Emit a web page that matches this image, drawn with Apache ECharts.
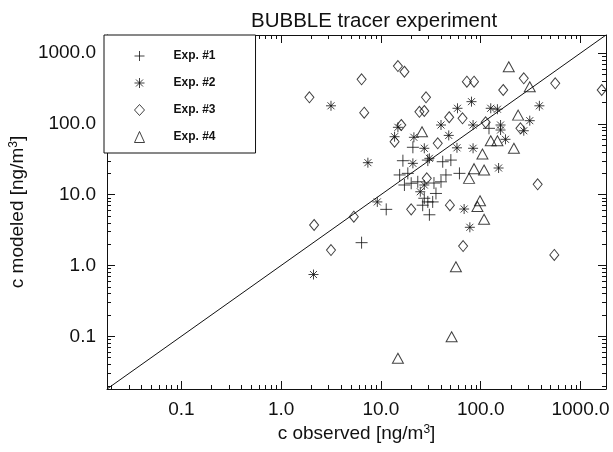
<!DOCTYPE html>
<html><head><meta charset="utf-8">
<script src="https://cdn.jsdelivr.net/npm/echarts@6/dist/echarts.min.js"></script>
<style>html,body{margin:0;padding:0;background:#fff}#c{width:613px;height:452px}</style>
</head><body><div id="c"></div>
<script>
// ---- data (observed [ng/m3], modeled [ng/m3]) ----
const exp1Obs = [20.9,16.6,29.5,41.6,50.2,15.4,18.6,44.8,17.2,20.1,23.4,34.0,40.0,35.6,27.2,29.5,33.0,11.3,26.2,30.6,6.4,121,61.2];
const exp1Mod = [46.7,30.2,30.8,29.2,30.8,19.0,20.0,19.0,13.7,14.5,15.2,14.6,15.2,10.4,8.9,7.9,7.9,6.2,7.1,5.2,2.1,86.5,20.0];
const exp2Obs = [3.16,58.5,14.8,40.0,13.7,21.4,47.8,27.2,57.8,7.4,20.9,30.6,27.2,24.8,9.2,2.11,80.8,126,147,387,310,83.8,158,158,270,177,83.8,151,68.2,77.8];
const exp2Mod = [180,166,89.4,96.4,65.9,64.6,68.7,45.2,45.9,28.3,27.7,32.6,13.7,11.0,7.9,0.745,206,166,161,180,111,96.4,96.4,81.9,80.0,60.5,45.2,23.8,6.27,3.46];
const exp3Obs = [1.92,6.4,6.8,14.8,17.2,28.3,24.3,27.2,48.3,16.0,13.7,37.1,72.6,85.7,270,168,558,1630,65.7,112,250,28.8,20.1,49.1,5.35,2.14,3.16,372,66.6,546];
const exp3Mod = [237,426,144,656,545,237,148,152,124,96.4,56.0,53.1,394,394,440,301,374,301,120,105,86.5,17.0,6.2,7.1,4.88,3.73,1.65,14.0,1.88,1.41];
const exp4Obs = [25.8,191,310,237,126,147,215,104,85.7,108,76.4,98.4,92.7,108,56.4,51.1,14.8];
const exp4Mod = [77.5,641,335,133,57.8,57.8,45.2,37.5,23.3,22.3,17.0,8.2,6.8,4.49,0.96,0.0986,0.0489];
const seriesNames = ['Exp. #1','Exp. #2','Exp. #3','Exp. #4'];
const axisRange = [0.018, 1800];
const oneToOne = [[0.018,0.018],[1800,1800]];

const INK = '#111';
const FONT = 'Liberation Sans, Arial, sans-serif';
const pairs = (a,b) => a.map((v,i)=>[v,b[i]]);
const chart = echarts.init(document.getElementById('c'), null, {renderer:'canvas'});

const baseAxis = (pos) => ({
  type:'log', min:axisRange[0], max:axisRange[1], position:pos,
  axisLine:{show:true, onZero:false, lineStyle:{color:INK, width:1}},
  axisTick:{show:true, inside:true, length:8, lineStyle:{color:INK, width:1}},
  minorTick:{show:true, splitNumber:9, length:4, lineStyle:{color:INK, width:1}},
  splitLine:{show:false}, minorSplitLine:{show:false}
});
const labelStyle = {show:true, color:INK, fontSize:19, fontFamily:FONT, showMinLabel:false, showMaxLabel:false,
  formatter: v => Number(v).toFixed(1)};
const symStyle = {color:'transparent', borderColor:INK, borderWidth:1};
const nameStyle = {fontSize:19, color:INK, fontFamily:FONT, rich:{sup:{fontSize:12, verticalAlign:'top', color:INK, fontFamily:FONT}}};

const option = {
  backgroundColor:'#fff',
  animation:false,
  title:{text:'BUBBLE tracer experiment', left:246, top:6,
    textStyle:{fontSize:20.5, fontWeight:'normal', color:INK, fontFamily:FONT}},
  grid:{left:104, right:7, top:35, bottom:63},
  legend:{data:seriesNames, orient:'vertical', left:104, top:35,
    padding:[15,40,10,30], itemGap:15, itemWidth:10, itemHeight:11,
    borderColor:INK, borderWidth:1, backgroundColor:'#fff',
    itemStyle:{color:'transparent', borderColor:INK, borderWidth:1},
    textStyle:{fontSize:12, fontWeight:'bold', color:INK, fontFamily:FONT, padding:[0,0,0,24]}},
  xAxis:[
    Object.assign(baseAxis('bottom'), {name:'c observed [ng/m{sup|3}]', nameLocation:'middle', nameGap:33,
      nameTextStyle:nameStyle, axisLabel:Object.assign({margin:11}, labelStyle)}),
    Object.assign(baseAxis('top'), {axisLabel:{show:false}})
  ],
  yAxis:[
    Object.assign(baseAxis('left'), {name:'c modeled [ng/m{sup|3}]', nameLocation:'middle', nameGap:70, nameRotate:90,
      nameTextStyle:nameStyle, axisLabel:Object.assign({margin:11}, labelStyle)}),
    Object.assign(baseAxis('right'), {axisLabel:{show:false}})
  ],
  series:[
    {type:'line', name:'1:1', data:oneToOne, showSymbol:false, silent:true,
      lineStyle:{color:INK, width:1}, z:2},
    {type:'scatter', name:seriesNames[0], data:pairs(exp1Obs,exp1Mod), symbol:'path://M6,0V12M0,6H12', symbolSize:12, itemStyle:symStyle, z:3},
    {type:'scatter', name:seriesNames[1], data:pairs(exp2Obs,exp2Mod), symbol:'path://M5,0V10M0,5H10M1.5,1.5L8.5,8.5M1.5,8.5L8.5,1.5', symbolSize:10, itemStyle:symStyle, z:3},
    {type:'scatter', name:seriesNames[2], data:pairs(exp3Obs,exp3Mod), symbol:'diamond', symbolSize:[9,11], itemStyle:symStyle, z:3},
    {type:'scatter', name:seriesNames[3], data:pairs(exp4Obs,exp4Mod), symbol:'triangle', symbolSize:[11,10], itemStyle:symStyle, z:3}
  ]
};
chart.setOption(option);
</script></body></html>
